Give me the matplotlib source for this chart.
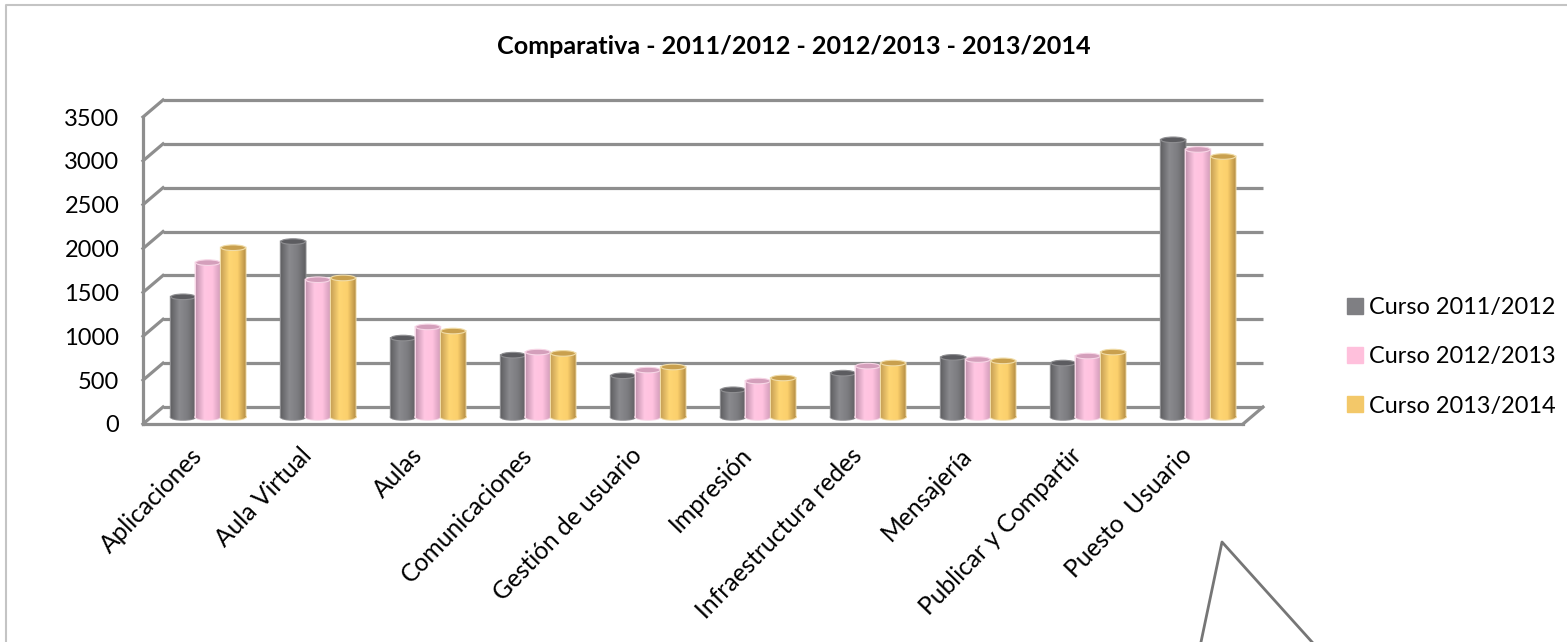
"""Comparativa por curso: columnas cilindricas con suelo y rejilla en perspectiva."""

import matplotlib

matplotlib.use("Agg")
import matplotlib.pyplot as plt
import numpy as np
from matplotlib.colors import LinearSegmentedColormap
from matplotlib.lines import Line2D
from matplotlib.patches import Ellipse, PathPatch, Rectangle
from matplotlib.path import Path
from matplotlib.transforms import Affine2D

categories = [
    "Aplicaciones", "Aula Virtual", "Aulas", "Comunicaciones", "Gestión de usuario",
    "Impresión", "Infraestructura redes", "Mensajería", "Publicar y Compartir", "Puesto  Usuario",
]
curso_2011 = [1370, 2000, 900, 705, 470, 310, 500, 680, 615, 3160]
curso_2012 = [1760, 1565, 1027, 740, 535, 410, 580, 655, 695, 3050]
curso_2013 = [1930, 1585, 980, 725, 570, 445, 615, 640, 740, 2970]
series_names = ["Curso 2011/2012", "Curso 2012/2013", "Curso 2013/2014"]
y_ticks = [0, 500, 1000, 1500, 2000, 2500, 3000, 3500]

W, H = 1567, 642
DEPTH_X, DEPTH_Y = 20, 17
GRID = "#8e8e8e"

styles = [
    {"shade": ["#626265", "#8a8a8e", "#7d7d81", "#5f5f62"], "cap": "#5c5c60", "edge": "#8f8f92", "key": "#7f7f83"},
    {"shade": ["#c596b2", "#ffc6e2", "#ffc2df", "#cf9ab8"], "cap": "#d49fbb", "edge": "#f7d6e6", "key": "#ffc0dc"},
    {"shade": ["#c9a257", "#fed674", "#fbd06c", "#b68e45"], "cap": "#c9a04e", "edge": "#f0dca8", "key": "#f3c869"},
]

fig = plt.figure(figsize=(W / 100, H / 100), dpi=100)
ax = fig.add_axes([143 / W, (H - 424) / H, 1100 / W, 307 / H])
ax.set_xlim(0, 10)
ax.set_ylim(0, 3500)
for spine in ax.spines.values():
    spine.set_visible(False)

back = ax.transData + Affine2D().translate(DEPTH_X, DEPTH_Y)
base = ax.transData + Affine2D().translate(0, 7)

# back wall grid and side wall
for v in y_ticks:
    ax.plot([0, 10], [v, v], transform=back, color=GRID, lw=2.3, clip_on=False, zorder=1, solid_capstyle="butt")
    x0, y0 = ax.transData.transform((0, v))
    ax.plot([x0, x0 + DEPTH_X], [y0, y0 + DEPTH_Y], transform=None, color=GRID, lw=2.3, clip_on=False, zorder=1)
ax.plot([0, 0], [0, 3500], color=GRID, lw=2.3, clip_on=False, zorder=1)

# floor front edge
ax.plot([0, 10], [0, 0], color=GRID, lw=2.3, clip_on=False, zorder=1)
x1, y1 = ax.transData.transform((10, 0))
ax.plot([x1, x1 + DEPTH_X], [y1, y1 + DEPTH_Y], transform=None, color=GRID, lw=2.3, clip_on=False, zorder=1)

bar_w = 0.225
cap_h = 64
offsets = [0.365, 0.59, 0.82]
for s, values in enumerate([curso_2011, curso_2012, curso_2013]):
    st = styles[s]
    cmap = LinearSegmentedColormap.from_list(f"c{s}", st["shade"])
    for i, v in enumerate(values):
        left = i + offsets[s] - bar_w / 2
        cx = left + bar_w / 2
        z = 3 + s + i * 0.01
        rect = Rectangle((left, 0), bar_w, v)
        foot = Ellipse((cx, 0), bar_w, cap_h)
        body = Path.make_compound_path(
            rect.get_path().transformed(rect.get_patch_transform()),
            foot.get_path().transformed(foot.get_patch_transform()),
        )
        outline = PathPatch(body, facecolor=st["shade"][1], edgecolor=st["edge"], lw=1.4,
                            transform=base, clip_on=False, zorder=z)
        ax.add_patch(outline)
        img = ax.imshow(np.linspace(0, 1, 64)[None, :], cmap=cmap, aspect="auto",
                        extent=(left, left + bar_w, -cap_h / 2, v), transform=base,
                        zorder=z + 0.001, clip_on=True)
        img.set_clip_path(PathPatch(body, transform=base))
        ax.add_patch(Ellipse((cx, v), bar_w, cap_h, facecolor=st["cap"], edgecolor=st["edge"], lw=0.8,
                             transform=base, clip_on=False, zorder=z + 0.002))
ax.set_xlim(0, 10)
ax.set_ylim(0, 3500)

ax.set_yticks(y_ticks)
ax.tick_params(axis="y", length=0, pad=17, labelsize=17, labelcolor="black")
ax.set_xticks(np.arange(10) + 0.59)
ax.set_xticklabels(categories, rotation=46, ha="right", va="top", rotation_mode="anchor",
                   fontsize=17.7, family="Lato")
ax.tick_params(axis="x", length=0, pad=14)
label_shift = Affine2D().translate(-18, 0)
for label in ax.get_xticklabels():
    label.set_transform(label.get_transform() + label_shift)
for label in ax.get_yticklabels():
    label.set_family("Lato")

fig.text(794 / W, 1 - 46 / H, "Comparativa - 2011/2012 - 2012/2013 - 2013/2014", ha="center", va="center",
         fontsize=18.1, fontweight="bold", family="Lato")

handles = [Line2D([], [], ls="none", marker="s", ms=11, color=st["key"], label=name)
           for st, name in zip(styles, series_names)]
fig.legend(handles=handles, loc="center left", bbox_to_anchor=(1329 / W, 1 - 357 / H), frameon=False,
           prop={"family": "Lato", "size": 16.9}, labelspacing=1.2, handletextpad=0.02, borderpad=0, handlelength=1.2)

# outer frame and callout fragment left in the original capture
fig.add_artist(Line2D([6 / W, 6 / W, 1566 / W], [0, 1 - 5 / H, 1 - 5 / H], color="#c4c4c4", lw=1.5))
fig.add_artist(Line2D([1201 / W, 1222 / W, 1312 / W], [0, 1 - 542 / H, 0], color="#767676", lw=2))

fig.savefig("out.png", dpi=100)
